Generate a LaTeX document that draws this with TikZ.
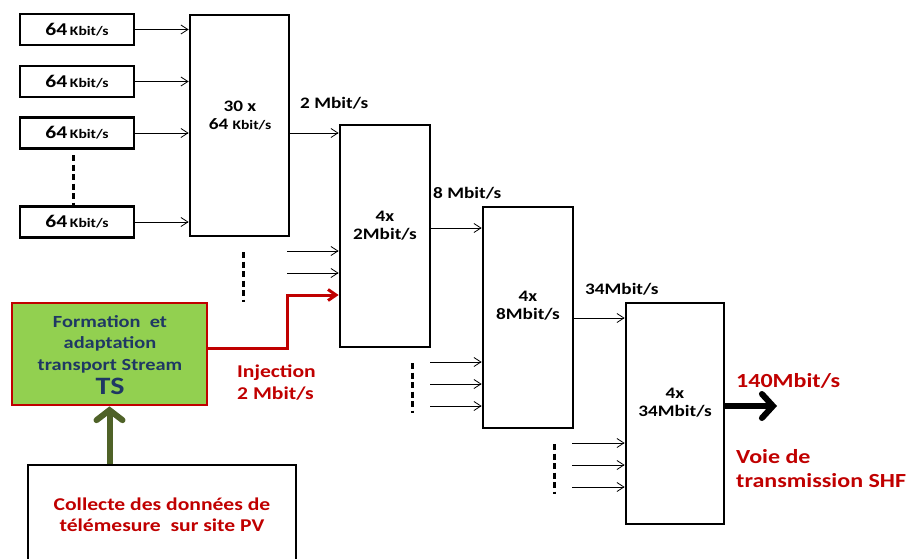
\documentclass[tikz,border=0pt]{standalone}
\usepackage{fontspec}
\setmainfont{Carlito}[FakeStretch=1.2]
\usetikzlibrary{arrows.meta}
\definecolor{dred}{HTML}{C00000}
\definecolor{lgreen}{HTML}{92D050}
\definecolor{dblue}{HTML}{1F3864}
\definecolor{olive}{HTML}{4F6228}
\tikzset{
  box/.style={draw, line width=2.7pt, inner sep=0pt, fill=white},
  arr/.style={-{Straight Barb[length=7pt,width=9pt]}, line width=0.8pt},
  redarr/.style={-{Straight Barb[length=8pt,width=11pt]}, line width=3pt, draw=dred, line join=miter},
  grnarr/.style={-{Straight Barb[length=10pt,width=26pt,line cap=round]}, line width=6pt, draw=olive},
  bigarr/.style={-{Straight Barb[length=11pt,width=24pt,line cap=round]}, line width=6pt},
  dots/.style={line width=3pt, dash pattern=on 6pt off 3.5pt},
  rate/.style={font=\bfseries\fontsize{16}{19}\selectfont, anchor=west, inner sep=0pt},
  inner/.style={font=\bfseries\fontsize{16}{18}\selectfont, align=center, inner sep=0pt},
  redtxt/.style={text=dred, font=\bfseries, inner sep=0pt},
}
\newcommand{\sixfour}{{\fontsize{18}{18}\selectfont 64} {\fontsize{13}{13}\selectfont Kbit/s}}
\begin{document}
\begin{tikzpicture}[x=1pt,y=-1pt]
\useasboundingbox (0,0) rectangle (912,558);
\clip (0,0) rectangle (912,558);

% small input boxes
\node[box, minimum width=114pt, minimum height=31pt, font=\bfseries] (s1) at (77,29.5) {\sixfour};
\node[box, minimum width=114pt, minimum height=31pt, font=\bfseries] (s2) at (77,81.5) {\sixfour};
\node[box, minimum width=114pt, minimum height=31pt, font=\bfseries] (s3) at (77,133) {\sixfour};
\node[box, minimum width=114pt, minimum height=31pt, font=\bfseries] (s4) at (77,222) {\sixfour};

% multiplexer boxes
\node[box, minimum width=99pt, minimum height=221pt] (A) at (239.5,125.5) {};
\node[box, minimum width=90pt, minimum height=222pt] (B) at (385,236) {};
\node[box, minimum width=90pt, minimum height=221pt] (C) at (528,317.5) {};
\node[box, minimum width=98pt, minimum height=221pt] (D) at (675,413.5) {};

\node[inner] (At) at (240,116) {30 x\\{\fontsize{16}{16}\selectfont 64} {\fontsize{13}{13}\selectfont Kbit/s}};
\node[inner] (Bt) at (385,226) {4x\\2Mbit/s};
\node[inner] (Ct) at (528,306) {4x\\8Mbit/s};
\node[inner] (Dt) at (675,402.5) {4x\\34Mbit/s};

% rate labels
\node[rate] (r1) at (300,103) {2 Mbit/s};
\node[rate] (r2) at (433,193.5) {8 Mbit/s};
\node[rate] (r3) at (585,289) {34Mbit/s};

% arrows small boxes -> A
\draw[arr] (s1.east) -- (s1.east -| A.west);
\draw[arr] (s2.east) -- (s2.east -| A.west);
\draw[arr] (s3.east) -- (s3.east -| A.west);
\draw[arr] (s4.east) -- (s4.east -| A.west);

% chain arrows
\coordinate (ab) at (290,133);
\draw[arr] (ab -| A.east) -- (ab -| B.west);
\coordinate (bc) at (430,228);
\draw[arr] (bc -| B.east) -- (bc -| C.west);
\coordinate (cd) at (573,318);
\draw[arr] (cd -| C.east) -- (cd -| D.west);

% extra inputs to B
\coordinate (b1) at (287,251);
\coordinate (b2) at (287,273);
\draw[arr] (b1) -- (b1 -| B.west);
\draw[arr] (b2) -- (b2 -| B.west);
% inputs to C
\coordinate (c1) at (430,362);
\coordinate (c2) at (430,384);
\coordinate (c3) at (430,406);
\draw[arr] (c1) -- (c1 -| C.west);
\draw[arr] (c2) -- (c2 -| C.west);
\draw[arr] (c3) -- (c3 -| C.west);
% inputs to D
\coordinate (d1) at (572,443);
\coordinate (d2) at (572,465);
\coordinate (d3) at (572,487);
\draw[arr] (d1) -- (d1 -| D.west);
\draw[arr] (d2) -- (d2 -| D.west);
\draw[arr] (d3) -- (d3 -| D.west);

% dashed ellipsis lines
\coordinate (e1a) at (73,155); \coordinate (e1b) at (73,205);
\draw[dots] (e1a) -- (e1b);
\coordinate (e2a) at (243,252); \coordinate (e2b) at (243,302);
\draw[dots] (e2a) -- (e2b);
\coordinate (e3a) at (412,363); \coordinate (e3b) at (412,413);
\draw[dots] (e3a) -- (e3b);
\coordinate (e4a) at (554,444); \coordinate (e4b) at (554,494);
\draw[dots] (e4a) -- (e4b);

% TS formation box
\node[draw=dred, fill=lgreen, line width=2.7pt, minimum width=195pt, minimum height=102pt, inner sep=0pt] (G) at (109.5,354) {};
\node[text=dblue, font=\bfseries\fontsize{17}{21.5}\selectfont, align=center, inner sep=0pt] (Gt) at (110,355)
  {Formation\ \ et\\adaptation\\transport Stream\\[3pt]{\fontsize{25}{25}\selectfont TS}};

% collect box
\node[box, minimum width=268pt, minimum height=105pt] (K) at (162,517.5) {};
\node[redtxt, font=\bfseries\fontsize{18}{21}\selectfont, align=center] (Kt) at (162,515)
  {Collecte des données de\\télémesure\ \ sur site PV};

% green arrow
\draw[grnarr] (G.south |- K.north) -- (G.south);

% red injection path
\coordinate (rj1) at (287,348);
\coordinate (rj2) at (287,295);
\draw[redarr] (G.east |- rj1) -- (rj1) -- (rj2) -- (rj2 -| B.west);
\node[redtxt, font=\bfseries\fontsize{18}{22}\selectfont, align=left, anchor=west] (inj) at (237,383) {Injection\\2 Mbit/s};

% output
\coordinate (out) at (777,406);
\draw[bigarr] (out -| D.east) -- (out);
\node[redtxt, font=\bfseries\fontsize{20}{24}\selectfont, anchor=west] (o1) at (736,380.5) {140Mbit/s};
\node[redtxt, font=\bfseries\fontsize{20}{24}\selectfont, align=left, anchor=west] (o2) at (736,469) {Voie de\\transmission SHF};
\end{tikzpicture}
\end{document}
